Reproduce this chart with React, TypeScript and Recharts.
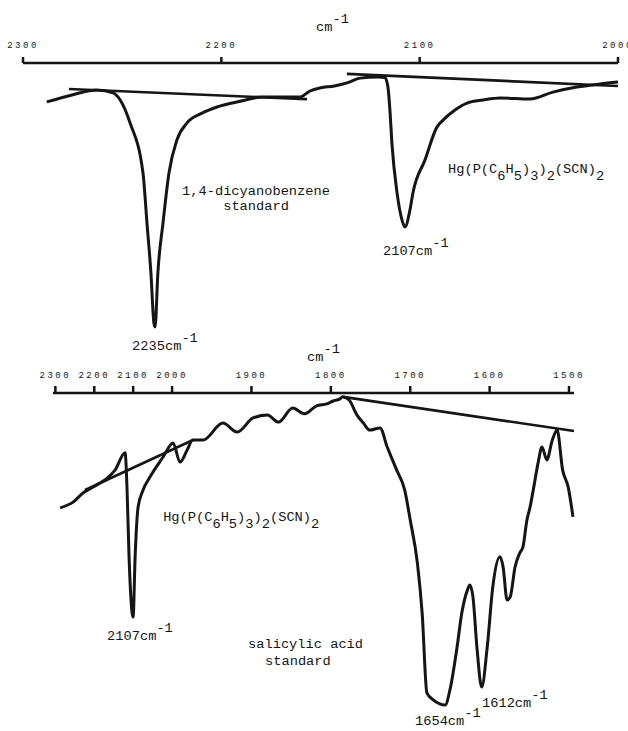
import React from 'react';
import { LineChart, Line, XAxis, YAxis, ReferenceDot, Label } from 'recharts';

const FONT = '"Liberation Mono", "DejaVu Sans Mono", monospace';
const INK = '#151515';

// ---------- top panel: 1,4-dicyanobenzene standard + Hg complex ----------
const topTicks = [2300, 2200, 2100, 2000];
const topWn = [2288, 2275.3, 2262.7, 2254.6, 2251, 2246, 2239.5, 2237.5, 2235.5, 2234, 2233.4, 2232, 2229.4, 2226.4, 2222.4, 2217.3, 2210, 2202.2, 2190, 2179, 2168, 2160.3, 2155.3, 2150.3, 2143, 2136.6, 2130, 2121, 2117.5, 2116, 2115, 2114, 2111.4, 2108.9, 2107.4, 2104.9, 2103.4, 2097.3, 2091.3, 2088.2, 2082.2, 2076.1, 2068, 2059.5, 2044.4, 2032.8, 2020.7, 2009, 2000];
const topT = [86.1, 88.6, 90.4, 89.3, 86.8, 78.6, 60.7, 42.9, 25, 7.1, 5.7, 25, 42.9, 60.7, 72.5, 78.6, 82, 84.3, 86.4, 87.9, 87.9, 87.9, 90, 91.1, 91.8, 92.9, 94.6, 95, 94.8, 91.4, 83.2, 71.4, 53.6, 43.9, 41.4, 47.5, 53.6, 65.4, 77.1, 79.6, 83.2, 85.7, 86.8, 87.5, 87.1, 89.6, 91.4, 92.5, 93.2];
const topBase1Wn = [2276.8, 2156.8];
const topBase1T = [90.7, 87.1];
const topBase2Wn = [2136.7, 2000];
const topBase2T = [96.1, 91.8];

// ---------- bottom panel: salicylic acid standard + Hg complex ----------
const botTicks = [2300, 2200, 2100, 2000, 1900, 1800, 1700, 1600, 1500];
const botWn = [2287.8, 2254.5, 2228.6, 2203, 2167, 2146.5, 2120.8, 2115.7, 2110.6, 2100.2, 2095, 2087.3, 2074.5, 2056.5, 2023, 1998.7, 1990, 1981, 1974, 1961, 1936, 1918, 1898, 1880, 1866, 1848, 1833, 1818, 1805, 1797, 1789, 1785, 1777, 1767, 1759, 1751, 1738, 1729, 1717, 1707, 1700, 1691, 1685, 1679, 1671, 1656, 1650, 1641, 1635, 1628, 1625, 1621, 1616, 1610, 1603, 1596, 1587, 1583, 1578, 1574, 1568, 1562, 1558, 1553, 1549, 1545, 1539, 1534, 1528, 1521, 1515, 1508, 1501, 1495];
const botT = [64.1, 65.9, 68.8, 70.6, 73.4, 75.9, 81.3, 69.7, 48.8, 30, 48.8, 64.4, 69.7, 73.8, 80, 84.4, 78.4, 82.2, 85.3, 85.3, 90.6, 87.8, 92.2, 93.1, 90.9, 95.3, 93.5, 96, 96.6, 97.5, 98.1, 98.8, 97.8, 93.1, 90.6, 88.4, 89.1, 83.1, 75.9, 69.7, 60.3, 46.9, 31.3, 6.3, 4.1, 2.5, 7.2, 20.6, 31.3, 38.4, 40, 36.3, 20.6, 8.1, 20.6, 39.4, 48.8, 45.6, 35.3, 36.3, 45.6, 50, 51.9, 60.3, 64.4, 69.7, 78.1, 83.1, 79.1, 85.3, 88.4, 75.9, 70.6, 61.3];
const botBase1Wn = [2223.7, 1973.6];
const botBase1T = [69.7, 85.3];
const botBase2Wn = [1784.6, 1493.7];
const botBase2T = [98.8, 88.1];

// the chart paper runs at half scale above 2000 cm-1
const HIGH_COMPRESS = 0.49;
const toPos = (wn: number) => (wn > 2000 ? 2000 + (wn - 2000) * HIGH_COMPRESS : wn);
const fromPos = (p: number) => (p > 2000 ? Math.round(2000 + (p - 2000) / HIGH_COMPRESS) : Math.round(p));

type Seg = { t: string; s?: 'sub' | 'sup' };
const FORMULA: Seg[] = [
  { t: 'Hg(P(C' }, { t: '6', s: 'sub' }, { t: 'H' }, { t: '5', s: 'sub' }, { t: ')' }, { t: '3', s: 'sub' },
  { t: ')' }, { t: '2', s: 'sub' }, { t: '(SCN)' }, { t: '2', s: 'sub' },
];
const cm1 = (v: string): Seg[] => [{ t: v + 'cm' }, { t: '-1', s: 'sup' }];

type Note = { wn: number; T: number; segs: Seg[]; anchor?: 'start' | 'middle' };
const topNotes: Note[] = [
  { wn: 2219.8, T: 52.9, segs: [{ t: '1,4-dicyanobenzene' }] },
  { wn: 2182.5, T: 47.5, segs: [{ t: 'standard' }], anchor: 'middle' },
  { wn: 2085.7, T: 60.7, segs: FORMULA },
  { wn: 2118.5, T: 31.4, segs: cm1('2107') },
  { wn: 2245, T: -2.5, segs: cm1('2235') },
];
const botNotes: Note[] = [
  { wn: 2023, T: 60, segs: FORMULA },
  { wn: 2167, T: 22.8, segs: cm1('2107') },
  { wn: 1904.3, T: 20.3, segs: [{ t: 'salicylic acid' }] },
  { wn: 1882.9, T: 15, segs: [{ t: 'standard' }] },
  { wn: 1609.6, T: 1.9, segs: cm1('1612') },
  { wn: 1694, T: -3.9, segs: cm1('1654') },
];

const zip = (xs: number[], ys: number[], key: string, f = (v: number) => v) =>
  xs.map((x, i) => ({ [key]: f(x), T: ys[i] }));

const RichText = ({ x, y, segs, anchor = 'start' }: { x: number; y: number; segs: Seg[]; anchor?: string }) => {
  let cur = 0;
  return (
    <text x={x} y={y} fontFamily={FONT} fontSize={13.7} fill={INK} textAnchor={anchor as any}>
      {segs.map((s, i) => {
        const target = s.s === 'sub' ? 7 : s.s === 'sup' ? -8 : 0;
        const dy = target - cur;
        cur = target;
        return (
          <tspan key={i} dy={dy}>
            {s.t}
          </tspan>
        );
      })}
    </text>
  );
};

const noteLabel = (n: Note) => (props: any) => {
  const vb = props.viewBox || {};
  return <RichText x={vb.x} y={vb.y} segs={n.segs} anchor={n.anchor} />;
};

const axisTitle = (dx: number) => (props: any) => {
  const vb = props.viewBox || {};
  return <RichText x={vb.x + dx} y={vb.y - 2} segs={[{ t: 'cm' }, { t: '-1', s: 'sup' }]} />;
};

const tickStyle = { fontSize: 9, fontFamily: FONT, fill: INK, letterSpacing: 2.5 };
const lineStyle = { stroke: INK, strokeWidth: 2.5 };

export default function App() {
  const topCurve = zip(topWn, topT, 'wn');
  const topB1 = zip(topBase1Wn, topBase1T, 'wn');
  const topB2 = zip(topBase2Wn, topBase2T, 'wn');
  const botCurve = zip(botWn, botT, 'pos', toPos);
  const botB1 = zip(botBase1Wn, botBase1T, 'pos', toPos);
  const botB2 = zip(botBase2Wn, botBase2T, 'pos', toPos);

  return (
    <div style={{ position: 'absolute', left: 0, top: 0, width: 628, height: 731, background: '#fff' }}>
      <div style={{ position: 'absolute', left: 0, top: 0 }}>
        <LineChart width={628} height={731} margin={{ top: 33, right: 10, bottom: 388, left: 23 }}>
          <XAxis
            type="number"
            dataKey="wn"
            domain={[2000, 2300]}
            reversed
            orientation="top"
            ticks={topTicks}
            interval={0}
            height={30}
            tickSize={6}
            tickMargin={9}
            axisLine={lineStyle}
            tickLine={lineStyle}
            tick={tickStyle}
            label={<Label content={axisTitle(293)} />}
          />
          <YAxis hide type="number" domain={[0, 100]} />
          <Line data={topCurve} dataKey="T" type="monotone" stroke={INK} strokeWidth={3} dot={false} activeDot={false} isAnimationActive={false} />
          <Line data={topB1} dataKey="T" type="linear" stroke={INK} strokeWidth={2.6} dot={false} activeDot={false} isAnimationActive={false} />
          <Line data={topB2} dataKey="T" type="linear" stroke={INK} strokeWidth={2.6} dot={false} activeDot={false} isAnimationActive={false} />
          {topNotes.map((n, i) => (
            <ReferenceDot key={i} x={n.wn} y={n.T} r={0} fill="none" stroke="none" ifOverflow="visible" label={<Label content={noteLabel(n)} />} />
          ))}
        </LineChart>
      </div>
      <div style={{ position: 'absolute', left: 0, top: 0 }}>
        <LineChart width={628} height={731} margin={{ top: 363, right: 54, bottom: 18, left: 53 }}>
          <XAxis
            type="number"
            dataKey="pos"
            domain={[1494, 2150]}
            reversed
            orientation="top"
            ticks={botTicks.map(toPos)}
            tickFormatter={(p: number) => String(fromPos(p))}
            interval={0}
            height={30}
            tickSize={7}
            tickMargin={8}
            axisLine={lineStyle}
            tickLine={lineStyle}
            tick={tickStyle}
            label={<Label content={axisTitle(254)} />}
          />
          <YAxis hide type="number" domain={[0, 100]} />
          <Line data={botCurve} dataKey="T" type="monotone" stroke={INK} strokeWidth={3} dot={false} activeDot={false} isAnimationActive={false} />
          <Line data={botB1} dataKey="T" type="linear" stroke={INK} strokeWidth={2.6} dot={false} activeDot={false} isAnimationActive={false} />
          <Line data={botB2} dataKey="T" type="linear" stroke={INK} strokeWidth={2.6} dot={false} activeDot={false} isAnimationActive={false} />
          {botNotes.map((n, i) => (
            <ReferenceDot key={i} x={toPos(n.wn)} y={n.T} r={0} fill="none" stroke="none" ifOverflow="visible" label={<Label content={noteLabel(n)} />} />
          ))}
        </LineChart>
      </div>
    </div>
  );
}
